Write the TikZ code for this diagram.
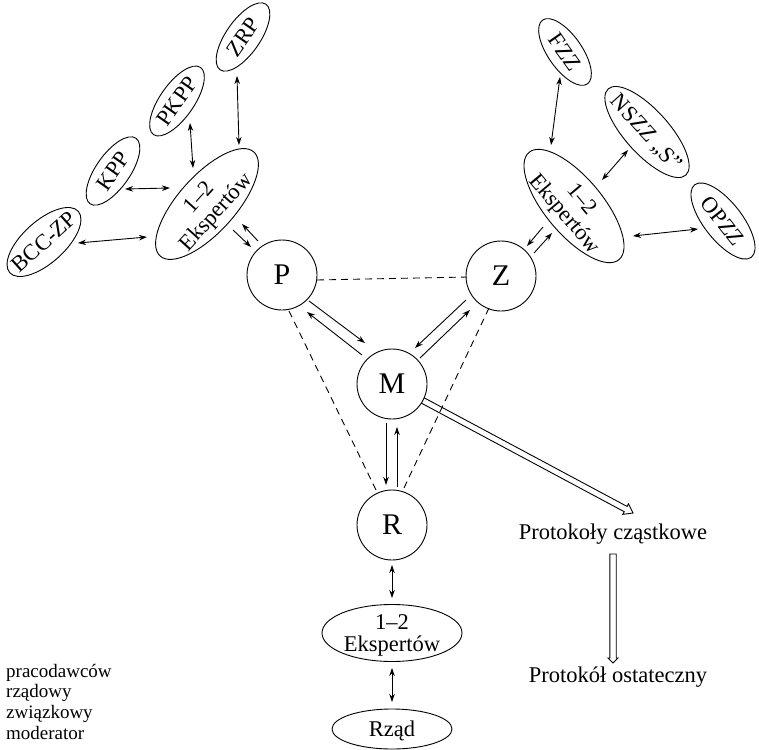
\documentclass[tikz,border=0pt]{standalone}
\usepackage{fontspec}
\setmainfont{Liberation Serif}
\usetikzlibrary{arrows.meta,calc,shapes.geometric}
\pgfdeclarelayer{background}
\pgfsetlayers{background,main}
\begin{document}
\begin{tikzpicture}[x=1pt,y=-1pt,
  circ/.style={draw, circle, line width=0.9pt, minimum size=70pt, inner sep=0pt, fill=white, font=\fontsize{30}{30}\selectfont},
  ell/.style={draw, ellipse, line width=0.9pt, inner sep=0pt, text height=15pt, text depth=0pt, font=\fontsize{22.5}{22}\selectfont},
  ell2/.style={draw, ellipse, line width=0.9pt, inner sep=0pt, text height=37pt, text depth=0pt, minimum width=140pt, minimum height=57pt, font=\fontsize{22.5}{22}\selectfont},
  txt/.style={font=\fontsize{22.5}{22}\selectfont, inner sep=0pt, anchor=base},
  leg/.style={font=\fontsize{19}{20.5}\selectfont, inner sep=0pt, anchor=base west},
  dar/.style={line width=0.9pt, {Stealth[length=8pt,width=5.5pt]}-{Stealth[length=8pt,width=5.5pt]}},
  sar/.style={line width=0.9pt, -{Stealth[length=8pt,width=5.5pt]}},
  dsh/.style={line width=0.9pt, dash pattern=on 7pt off 5pt},
  blk/.style={draw, line width=0.9pt, line join=miter},
]
\useasboundingbox (0,0) rectangle (759,749);

% central circles
\node[circ] (P) at (282,275) {P};
\node[circ] (Z) at (501,276) {Z};
\node[circ] (M) at (392,384) {M};
\node[circ] (R) at (392,525) {R};

% expert ellipses
\node[ell2, rotate=48] (eL) at (207,204) {\makebox[0pt]{\begin{tabular}[b]{@{}c@{}}1--2\\Ekspertów\end{tabular}}};
\node[ell2, rotate=-50] (eR) at (574,206) {\makebox[0pt]{\begin{tabular}[b]{@{}c@{}}1--2\\Ekspertów\end{tabular}}};
\node[ell2] (eB) at (392,633) {\makebox[0pt]{\begin{tabular}[b]{@{}c@{}}1--2\\Ekspertów\end{tabular}}};
\node[ell, minimum width=120pt, minimum height=40pt] (rz) at (392,729) {\makebox[0pt]{Rząd}};

% employer organisations
\node[ell, minimum width=80pt, minimum height=34pt, rotate=55] (zrp) at (243,37) {\makebox[0pt]{ZRP}};
\node[ell, minimum width=82pt, minimum height=34pt, rotate=55] (pkpp) at (177,101) {\makebox[0pt]{PKPP}};
\node[ell, minimum width=80pt, minimum height=34pt, rotate=55] (kpp) at (113,171) {\makebox[0pt]{KPP}};
\node[ell, minimum width=92pt, minimum height=42pt, rotate=42] (bcc) at (44,242) {\makebox[0pt]{BCC-ZP}};

% union organisations
\node[ell, minimum width=78pt, minimum height=34pt, rotate=-55] (fzz) at (565,52) {\makebox[0pt]{FZZ}};
\node[ell, minimum width=116pt, minimum height=44pt, rotate=-48] (nszz) at (647,132) {\makebox[0pt]{NSZZ „S''}};
\node[ell, minimum width=92pt, minimum height=38pt, rotate=-52] (opzz) at (723,221) {\makebox[0pt]{OPZZ}};

% protocol texts
\node[txt] (pc) at (613,539) {Protokoły cząstkowe};
\node[txt] (po) at (618,682) {Protokół ostateczny};

% legend
\node[leg] (lg1) at (6,677) {pracodawców};
\node[leg] (lg2) at (6,697) {rządowy};
\node[leg] (lg3) at (6,718) {związkowy};
\node[leg] (lg4) at (6,739) {moderator};

% left group connectors
\draw[dar] ($(bcc)+(34,1)$) -- ($(eL)+(-60,33)$);
\draw[dar] ($(kpp)+(12,18)$) -- ($(eL)+(-37,-16)$);
\draw[dar] ($(pkpp)+(13,22)$) -- ($(eL)+(-14,-36)$);
\draw[dar] ($(zrp)+(-6,39)$) -- ($(eL)+(32,-59)$);
\draw[sar] ($(eL)+(26,26)$) -- ($(P)+(-31,-28)$);
\draw[sar] ($(P)+(-24,-34)$) -- ($(eL)+(35,20)$);

% right group connectors
\draw[dar] ($(fzz)+(-5,25)$) -- ($(eR)+(-23,-61)$);
\draw[dar] ($(nszz)+(-19,18)$) -- ($(eR)+(28,-26)$);
\draw[dar] ($(opzz)+(-25,8)$) -- ($(eR)+(59,30)$);
\draw[sar] ($(eR)+(-31,21)$) -- ($(Z)+(26,-30)$);
\draw[sar] ($(Z)+(33,-23)$) -- ($(eR)+(-22,27)$);

% triangle
\draw[dsh] ($(P)+(35,5)$) -- ($(Z)+(-34,1)$);
\draw[dsh] ($(P)+(7,36)$) -- ($(R)+(-15,-33)$);
\draw[dsh] ($(Z)+(-12,32)$) -- ($(R)+(11,-35)$);
\draw[sar] ($(P)+(27,26)$) -- ($(M)+(-27,-41)$);
\draw[sar] ($(M)+(-30,-29)$) -- ($(P)+(25,37)$);
\draw[sar] ($(Z)+(-35,24)$) -- ($(M)+(23,-36)$);
\draw[sar] ($(M)+(28,-26)$) -- ($(Z)+(-31,34)$);
\draw[sar] ($(M)+(-6,39)$) -- ($(R)+(-6,-40)$);
\draw[sar] ($(R)+(5,-38)$) -- ($(M)+(5,43)$);
\draw[dar] ($(R)+(0,40)$) -- ($(eB)+(0,-35)$);
\draw[dar] ($(eB)+(0,35)$) -- ($(rz)+(0,-27)$);

% block arrows
\begin{pgfonlayer}{background}
\begin{scope}[shift={(M)}, rotate=-28.16]
\draw[blk] (0,-3) -- (265,-3) -- (265,-6) -- (273.4,0) -- (265,6) -- (265,3) -- (0,3);
\end{scope}
\end{pgfonlayer}
\begin{scope}[shift={(pc.base)}]
\draw[blk] (-3.2,15) -- (3.2,15) -- (3.2,119) -- (5,119) -- (0,124) -- (-5,119) -- (-3.2,119) -- cycle;
\end{scope}
\end{tikzpicture}
\end{document}
